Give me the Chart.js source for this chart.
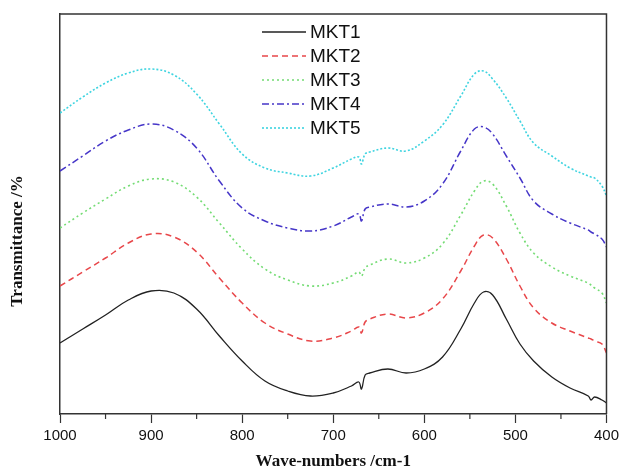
<!DOCTYPE html>
<html>
<head>
<meta charset="utf-8">
<script src="https://cdn.jsdelivr.net/npm/chart.js"></script>
<style>
  html, body { margin: 0; padding: 0; background: #fff; }
  #wrap { width: 623px; height: 474px; }
</style>
</head>
<body>
<div id="wrap"><canvas id="ftir" width="623" height="474"></canvas></div>
<script>
// wave-numbers (cm-1), shared by all series
const waveNumbers = [1000, 975, 950, 925, 900, 875, 850, 825, 800, 775, 750, 725, 700, 680, 672, 669, 665, 660,
  640, 620, 600, 580, 560, 545, 535, 525, 510, 495, 480, 460, 440, 420, 417, 413, 405, 400];

// transmittance, arbitrary units (curves are stacked with offsets)
const mkt1 = [71, 85, 99, 114, 123, 121, 105, 78, 53, 33, 23, 18, 21, 28, 32, 25, 39, 41,
  45, 41, 45, 57, 85, 111, 122, 119, 95, 70, 53, 37, 26, 18, 14, 17, 14, 11];
const mkt2 = [128, 142, 156, 171, 180, 177, 162, 136, 111, 91, 80, 73, 76, 83, 87, 81, 92, 95,
  100, 96, 101, 115, 143, 168, 179, 176, 155, 128, 106, 91, 83, 76, 75, 73, 70, 61];
const mkt3 = [186, 201, 215, 228, 235, 232, 217, 191, 165, 145, 134, 128, 131, 138, 142, 138, 146, 149,
  155, 151, 156, 170, 199, 223, 233, 230, 208, 181, 161, 147, 138, 131, 129, 126, 121, 111];
const mkt4 = [243, 258, 273, 284, 290, 284, 266, 233, 206, 193, 186, 183, 188, 197, 200, 193, 205, 207,
  210, 207, 213, 230, 263, 285, 287, 280, 258, 236, 213, 200, 191, 184, 182, 180, 175, 167];
const mkt5 = [301, 317, 331, 341, 345, 339, 320, 290, 260, 246, 241, 238, 246, 255, 257, 250, 260, 262,
  266, 263, 273, 289, 318, 340, 343, 335, 316, 293, 271, 258, 246, 238, 237, 236, 228, 218];

const seriesNames = ['MKT1', 'MKT2', 'MKT3', 'MKT4', 'MKT5'];
const xTicks = [1000, 900, 800, 700, 600, 500, 400];
const xMinorTicks = [950, 850, 750, 650, 550, 450];

const styles = [
  { color: '#222222', dash: [], width: 1.3 },
  { color: '#e8474a', dash: [6, 4], width: 1.5 },
  { color: '#74dc74', dash: [2, 3], width: 1.6 },
  { color: '#4636c8', dash: [7, 3, 2, 3], width: 1.5 },
  { color: '#3ed4e0', dash: [2, 2], width: 1.6 }
];

const allSeries = [mkt1, mkt2, mkt3, mkt4, mkt5];

const datasets = allSeries.map((vals, i) => ({
  label: seriesNames[i],
  data: vals.map((v, j) => ({ x: waveNumbers[j], y: v })),
  borderColor: styles[i].color,
  borderDash: styles[i].dash,
  borderWidth: styles[i].width,
  pointRadius: 0,
  fill: false,
  tension: 0.4
}));

// frame, minor ticks, y title and the in-plot legend
const extras = {
  id: 'extras',
  afterDraw(chart) {
    const ctx = chart.ctx;
    const a = chart.chartArea;
    const xs = chart.scales.x;
    ctx.save();
    ctx.strokeStyle = '#333';
    ctx.lineWidth = 1.5;
    ctx.beginPath();
    ctx.moveTo(a.left, a.top);
    ctx.lineTo(a.right, a.top);
    ctx.lineTo(a.right, a.bottom);
    ctx.stroke();

    ctx.lineWidth = 1.2;
    xMinorTicks.forEach(t => {
      const px = xs.getPixelForValue(t);
      ctx.beginPath();
      ctx.moveTo(px, a.bottom);
      ctx.lineTo(px, a.bottom + 5);
      ctx.stroke();
    });

    // y axis title, sits a bit below the plot centre in the original
    ctx.save();
    ctx.translate(18, 241);
    ctx.rotate(-Math.PI / 2);
    ctx.font = 'bold 17px "Liberation Serif", "Times New Roman", serif';
    ctx.fillStyle = '#111';
    ctx.textAlign = 'center';
    ctx.textBaseline = 'middle';
    ctx.fillText('Transmittance /%', 0, 0);
    ctx.restore();

    ctx.font = '19px "Liberation Sans", Arial, sans-serif';
    ctx.textBaseline = 'middle';
    ctx.textAlign = 'left';
    chart.data.datasets.forEach((ds, i) => {
      const y = 32 + i * 24;
      ctx.strokeStyle = ds.borderColor;
      ctx.lineWidth = ds.borderWidth;
      ctx.setLineDash(ds.borderDash);
      ctx.beginPath();
      ctx.moveTo(262, y);
      ctx.lineTo(306, y);
      ctx.stroke();
      ctx.setLineDash([]);
      ctx.fillStyle = '#111';
      ctx.fillText(ds.label, 310, y + 1);
    });
    ctx.restore();
  }
};

new Chart(document.getElementById('ftir'), {
  type: 'line',
  data: { datasets },
  options: {
    responsive: false,
    animation: false,
    layout: { padding: { top: 14, right: 14, left: 0, bottom: 0 } },
    plugins: { legend: { display: false }, tooltip: { enabled: false } },
    scales: {
      x: {
        type: 'linear',
        reverse: true,
        min: 400,
        max: 1000,
        afterBuildTicks: s => { s.ticks = xTicks.map(v => ({ value: v })); },
        afterFit: s => { s.height = 60; },
        grid: { drawOnChartArea: false, drawTicks: true, tickLength: 9, tickColor: '#333', tickWidth: 1.2 },
        border: { display: true, color: '#333', width: 1.5 },
        ticks: {
          color: '#111',
          padding: 4,
          maxRotation: 0,
          autoSkip: false,
          callback: v => String(v),
          font: { family: '"Liberation Sans", Arial, sans-serif', size: 15 }
        },
        title: {
          display: true,
          text: 'Wave-numbers /cm-1',
          color: '#111',
          padding: { top: 0, bottom: 2 },
          font: { family: '"Liberation Serif", "Times New Roman", serif', size: 17, weight: 'bold' }
        }
      },
      y: {
        min: 0,
        max: 400,
        afterFit: s => { s.width = 60; },
        grid: { drawOnChartArea: false, drawTicks: false },
        border: { display: true, color: '#333', width: 1.5 },
        ticks: { display: false },
        title: { display: false }
      }
    }
  },
  plugins: [extras]
});
</script>
</body>
</html>
